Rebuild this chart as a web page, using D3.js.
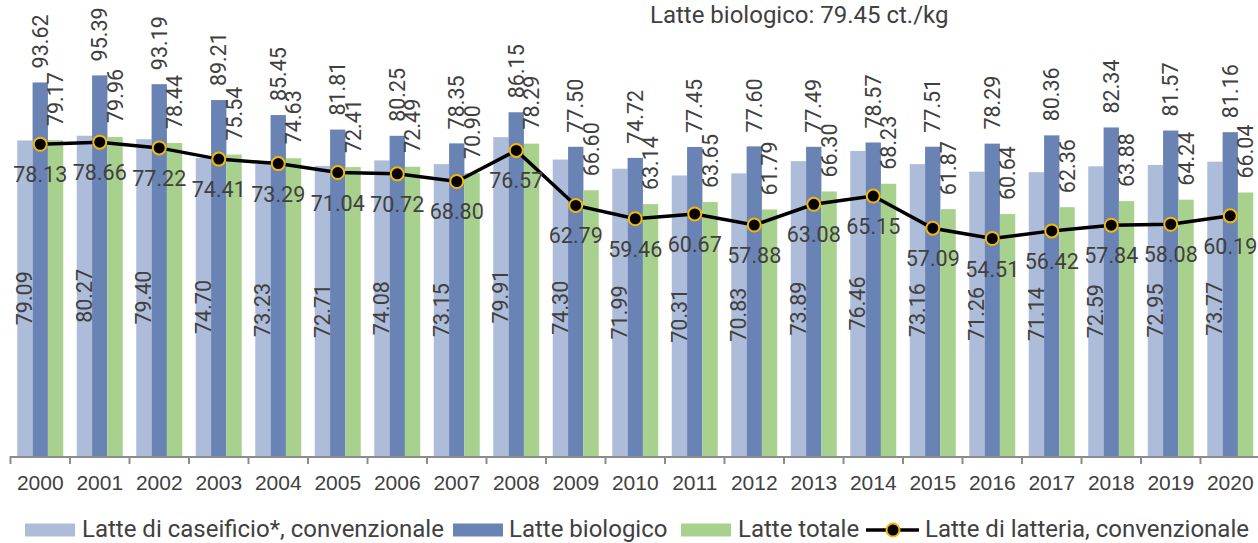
<!DOCTYPE html>
<html lang="it">
<head>
<meta charset="UTF-8">
<title>Prezzo del latte</title>
<style>
  body { margin: 0; background: #fff; }
  svg { display: block; font-family: Roboto, "Noto Sans", sans-serif; }
  .lbl { fill: #404040; font-size: 21.5px; }
</style>
<script src="https://d3js.org/d3.v7.min.js"></script>
</head>
<body>
<svg width="1258" height="543"></svg>
<script>
// data
const years = ["2000","2001","2002","2003","2004","2005","2006","2007","2008","2009","2010",
               "2011","2012","2013","2014","2015","2016","2017","2018","2019","2020"];
const caseificio = [79.09,80.27,79.40,74.70,73.23,72.71,74.08,73.15,79.91,74.30,71.99,
                    70.31,70.83,73.89,76.46,73.16,71.26,71.14,72.59,72.95,73.77];
const biologico = [93.62,95.39,93.19,89.21,85.45,81.81,80.25,78.35,86.15,77.50,74.72,
                   77.45,77.60,77.49,78.57,77.51,78.29,80.36,82.34,81.57,81.16];
const totale = [79.17,79.96,78.44,75.54,74.63,72.41,72.49,70.90,78.29,66.60,63.14,
                63.65,61.79,66.30,68.23,61.87,60.64,62.36,63.88,64.24,66.04];
const latteria = [78.13,78.66,77.22,74.41,73.29,71.04,70.72,68.80,76.57,62.79,59.46,
                  60.67,57.88,63.08,65.15,57.09,54.51,56.42,57.84,58.08,60.19];
const seriesNames = ["Latte di caseificio*, convenzionale", "Latte biologico", "Latte totale"];
const lineName = "Latte di latteria, convenzionale";
const titleText = "Latte biologico: 79.45 ct./kg";

const colors = ["#adbcd8", "#6a83b5", "#a9d18e"];
const textColor = "#404040";

const svg = d3.select("svg");

const x0 = 10.5, step = 59.5;
const x = d3.scaleBand()
  .domain(years)
  .range([x0, x0 + step * years.length])
  .paddingInner(0.227)
  .paddingOuter(0.1135);

const xs = d3.scaleBand()
  .domain(d3.range(3))
  .range([0, x.bandwidth()]);

const y = d3.scaleLinear().domain([0, 100]).range([456, 57]);

const bars = [caseificio, biologico, totale];

// bars
bars.forEach((vals, s) => {
  svg.append("g")
    .selectAll("rect")
    .data(vals)
    .join("rect")
    .attr("x", (d, i) => x(years[i]) + xs(s))
    .attr("y", d => y(d))
    .attr("width", xs.bandwidth())
    .attr("height", d => y(0) - y(d))
    .attr("fill", colors[s]);
});

// axis
const axisY = y(0);
const xEnd = x0 + step * years.length;
svg.append("line")
  .attr("x1", x0).attr("x2", xEnd)
  .attr("y1", axisY + 1).attr("y2", axisY + 1)
  .attr("stroke", "#8c8c8c").attr("stroke-width", 2);
svg.append("g")
  .selectAll("line")
  .data(d3.range(years.length + 1))
  .join("line")
  .attr("x1", i => x0 + i * step).attr("x2", i => x0 + i * step)
  .attr("y1", axisY).attr("y2", axisY + 8)
  .attr("stroke", "#8c8c8c").attr("stroke-width", 2);

const xAxis = svg.append("g")
  .attr("transform", `translate(0,${axisY})`)
  .call(d3.axisBottom(x).tickSize(0).tickPadding(0));
xAxis.select(".domain").remove();
xAxis.selectAll("text")
  .attr("class", "lbl")
  .attr("y", 34).attr("dy", 0)
  .attr("fill", textColor)
  .style("font-size", "21px");

// labels inside light bars
svg.append("g")
  .selectAll("text")
  .data(caseificio)
  .join("text")
  .attr("class", "lbl")
  .attr("text-anchor", "middle")
  .attr("dominant-baseline", "central")
  .attr("transform", (d, i) => `translate(${x(years[i]) + xs(0) + xs.bandwidth() / 2},${(y(d) + y(0)) / 2}) rotate(-90)`)
  .text(d => d.toFixed(2));

// labels above dark and green bars
[1, 2].forEach(s => {
  svg.append("g")
    .selectAll("text")
    .data(bars[s])
    .join("text")
    .attr("class", "lbl")
    .attr("text-anchor", "start")
    .attr("dominant-baseline", "central")
    .attr("transform", (d, i) => `translate(${x(years[i]) + xs(s) + xs.bandwidth() / 2},${y(d) - 14}) rotate(-90)`)
    .text(d => d.toFixed(2));
});

// line
const cx = (d, i) => x(years[i]) + x.bandwidth() / 2;
svg.append("path")
  .datum(latteria)
  .attr("fill", "none")
  .attr("stroke", "#000")
  .attr("stroke-width", 3.5)
  .attr("d", d3.line().x(cx).y(d => y(d)));

svg.append("g")
  .selectAll("circle")
  .data(latteria)
  .join("circle")
  .attr("cx", cx)
  .attr("cy", d => y(d))
  .attr("r", 6.5)
  .attr("fill", "#000")
  .attr("stroke", "#f5b800")
  .attr("stroke-width", 2);

svg.append("g")
  .selectAll("text")
  .data(latteria)
  .join("text")
  .attr("class", "lbl")
  .attr("text-anchor", "middle")
  .attr("x", cx)
  .attr("y", d => y(d) + 38)
  .text(d => d.toFixed(2));

// title
svg.append("text")
  .attr("class", "lbl")
  .attr("x", 650).attr("y", 23)
  .style("font-size", "24px")
  .text(titleText);

// legend
const legY = 530;
const legItems = [
  { name: seriesNames[0], sx: 25, tx: 82, type: "rect", color: colors[0] },
  { name: seriesNames[1], sx: 453, tx: 509, type: "rect", color: colors[1] },
  { name: seriesNames[2], sx: 681, tx: 738, type: "rect", color: colors[2] },
  { name: lineName, sx: 866, tx: 925, type: "line" }
];
const leg = svg.append("g");
legItems.forEach(it => {
  if (it.type === "rect") {
    leg.append("rect")
      .attr("x", it.sx).attr("y", legY - 6.5)
      .attr("width", 50).attr("height", 13)
      .attr("fill", it.color);
  } else {
    leg.append("line")
      .attr("x1", it.sx).attr("x2", it.sx + 53)
      .attr("y1", legY).attr("y2", legY)
      .attr("stroke", "#000").attr("stroke-width", 3.5);
    leg.append("circle")
      .attr("cx", it.sx + 27).attr("cy", legY)
      .attr("r", 6.5).attr("fill", "#000")
      .attr("stroke", "#f5b800").attr("stroke-width", 2);
  }
  leg.append("text")
    .attr("class", "lbl")
    .attr("x", it.tx).attr("y", legY + 7)
    .style("font-size", "24px")
    .text(it.name);
});
</script>
</body>
</html>
